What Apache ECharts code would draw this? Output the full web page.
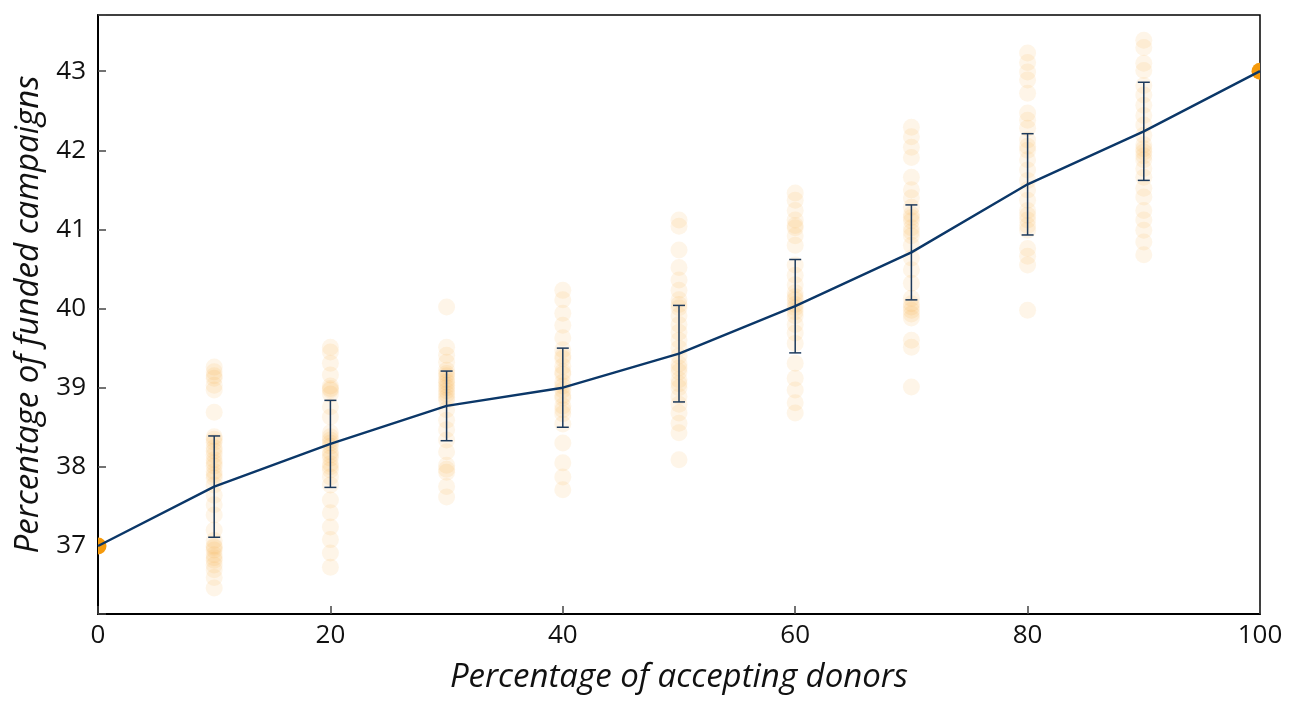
<!DOCTYPE html>
<html>
<head>
<meta charset="utf-8">
<script src="https://cdn.jsdelivr.net/npm/echarts@6/dist/echarts.min.js"></script>
<style>
html,body{margin:0;padding:0;background:#fff;}
#chart{width:1300px;height:712px;}
</style>
</head>
<body>
<div id="chart"></div>
<script>
// Fraction of accepting donors (x) and mean funded percentage (y)
const xValues = [0, 10, 20, 30, 40, 50, 60, 70, 80, 90, 100];
const meanValues = [37.0, 37.75, 38.29, 38.77, 39.0, 39.43, 40.03, 40.71, 41.57, 42.24, 43.0];
// Error bar (one standard deviation) half-widths
const errValues = [0, 0.64, 0.55, 0.44, 0.50, 0.61, 0.59, 0.60, 0.64, 0.62, 0];

// Individual simulation runs per x value
const runs10 = [39.26, 39.20, 39.15, 39.12, 39.03, 38.97, 38.69, 38.38, 38.35, 38.31, 38.24, 38.20, 38.15, 38.09, 38.05, 38.01, 37.94, 37.90, 37.86, 37.77, 37.64, 37.52, 37.39, 37.20, 37.07, 37.00, 36.98, 36.95, 36.89, 36.85, 36.82, 36.76, 36.70, 36.60, 36.47];
const runs20 = [39.51, 39.45, 39.31, 39.16, 39.02, 38.99, 38.97, 38.92, 38.76, 38.63, 38.43, 38.38, 38.34, 38.30, 38.26, 38.19, 38.15, 38.11, 38.04, 38.00, 37.96, 37.87, 37.77, 37.58, 37.42, 37.24, 37.08, 36.91, 36.73];
const runs30 = [40.02, 39.51, 39.41, 39.32, 39.22, 39.18, 39.15, 39.10, 39.07, 39.03, 39.00, 38.96, 38.92, 38.88, 38.84, 38.72, 38.59, 38.47, 38.34, 38.19, 38.02, 37.97, 37.93, 37.75, 37.62];
const runs40 = [40.23, 40.11, 39.94, 39.79, 39.63, 39.48, 39.40, 39.37, 39.27, 39.20, 39.17, 39.07, 39.02, 38.97, 38.90, 38.87, 38.77, 38.72, 38.67, 38.54, 38.30, 38.05, 37.87, 37.71];
const runs50 = [41.12, 41.04, 40.74, 40.52, 40.36, 40.23, 40.11, 40.05, 40.01, 39.91, 39.80, 39.70, 39.60, 39.50, 39.40, 39.30, 39.25, 39.20, 39.10, 39.05, 39.00, 38.89, 38.79, 38.68, 38.55, 38.43, 38.09];
const runs60 = [41.46, 41.37, 41.24, 41.12, 41.05, 41.02, 40.92, 40.80, 40.55, 40.42, 40.30, 40.20, 40.15, 40.11, 40.05, 40.01, 39.96, 39.91, 39.80, 39.69, 39.56, 39.31, 39.12, 38.97, 38.81, 38.68];
const runs70 = [42.29, 42.17, 42.04, 41.91, 41.66, 41.50, 41.40, 41.28, 41.19, 41.15, 41.11, 41.02, 40.97, 40.92, 40.80, 40.64, 40.49, 40.32, 40.13, 40.06, 40.02, 39.98, 39.93, 39.88, 39.60, 39.51, 39.01];
const runs80 = [43.23, 43.11, 42.99, 42.89, 42.72, 42.47, 42.38, 42.28, 42.13, 42.05, 42.00, 41.88, 41.75, 41.62, 41.50, 41.37, 41.24, 41.18, 41.12, 41.05, 40.99, 40.76, 40.66, 40.55, 39.98];
const runs90 = [43.39, 43.30, 43.10, 43.01, 42.82, 42.70, 42.57, 42.44, 42.32, 42.19, 42.07, 42.02, 41.98, 41.93, 41.88, 41.77, 41.66, 41.52, 41.41, 41.24, 41.12, 40.99, 40.84, 40.68];

const runGroups = [[10, runs10], [20, runs20], [30, runs30], [40, runs40], [50, runs50], [60, runs60], [70, runs70], [80, runs80], [90, runs90]];

const xTitle = 'Percentage of accepting donors';
const yTitle = 'Percentage of funded campaigns';

const scatterData = [];
runGroups.forEach(([x, arr]) => arr.forEach(v => scatterData.push([x, v])));
const endData = [[xValues[0], meanValues[0]], [xValues[10], meanValues[10]]];
const lineData = xValues.map((x, i) => [x, meanValues[i]]);
const errData = xValues.map((x, i) => [x, meanValues[i] - errValues[i], meanValues[i] + errValues[i]]).filter((d, i) => errValues[i] > 0);

const chart = echarts.init(document.getElementById('chart'), null, {renderer: 'canvas'});
const font = '"Open Sans", "Noto Sans", sans-serif';
chart.setOption({
  animation: false,
  backgroundColor: '#ffffff',
  grid: {left: 98, right: 40, top: 15, bottom: 98, show: true, borderColor: '#000', borderWidth: 1.5, backgroundColor: 'transparent'},
  xAxis: {
    type: 'value', min: 0, max: 100, interval: 20,
    name: xTitle, nameLocation: 'middle', nameGap: 47,
    nameTextStyle: {fontFamily: font, fontStyle: 'italic', fontSize: 33, color: '#111'},
    axisLine: {show: true, lineStyle: {color: '#000', width: 2}},
    axisTick: {show: true, inside: true, length: 8, lineStyle: {color: '#444', width: 1.5}},
    axisLabel: {fontFamily: font, fontSize: 26, color: '#111', margin: 9},
    splitLine: {show: false}
  },
  yAxis: {
    type: 'value', min: 36.14, max: 43.71, splitNumber: 8,
    name: yTitle, nameLocation: 'middle', nameGap: 48,
    nameTextStyle: {fontFamily: font, fontStyle: 'italic', fontSize: 33, color: '#111'},
    axisLine: {show: true, lineStyle: {color: '#000', width: 2}},
    axisTick: {show: true, inside: true, length: 8, lineStyle: {color: '#444', width: 1.5}},
    axisLabel: {fontFamily: font, fontSize: 26, color: '#111', margin: 12,
      formatter: v => (Math.abs(v - Math.round(v)) < 1e-6 ? String(Math.round(v)) : '')},
    splitLine: {show: false}
  },
  series: [
    {
      type: 'scatter', data: scatterData, symbolSize: 17,
      itemStyle: {color: 'rgba(250,160,40,0.135)'},
      z: 1, silent: true
    },
    {
      type: 'custom', data: errData, z: 3, silent: true,
      renderItem: (params, api) => {
        const x = api.value(0);
        const lo = api.coord([x, api.value(1)]);
        const hi = api.coord([x, api.value(2)]);
        const w = 6;
        const style = {stroke: '#1d3a5c', lineWidth: 1.5};
        return {type: 'group', children: [
          {type: 'line', shape: {x1: lo[0], y1: lo[1], x2: hi[0], y2: hi[1]}, style},
          {type: 'line', shape: {x1: lo[0] - w, y1: lo[1], x2: lo[0] + w, y2: lo[1]}, style},
          {type: 'line', shape: {x1: hi[0] - w, y1: hi[1], x2: hi[0] + w, y2: hi[1]}, style}
        ]};
      }
    },
    {
      type: 'custom', data: endData, z: 2, silent: true, clip: true,
      renderItem: (params, api) => {
        const p = api.coord([api.value(0), api.value(1)]);
        return {type: 'circle', shape: {cx: p[0], cy: p[1], r: 8.5}, style: {fill: '#f59a0c'}};
      }
    },
    {
      type: 'line', data: lineData, showSymbol: false, z: 4, silent: true,
      lineStyle: {color: '#0b3768', width: 2.4}
    }
  ]
});
</script>
</body>
</html>
